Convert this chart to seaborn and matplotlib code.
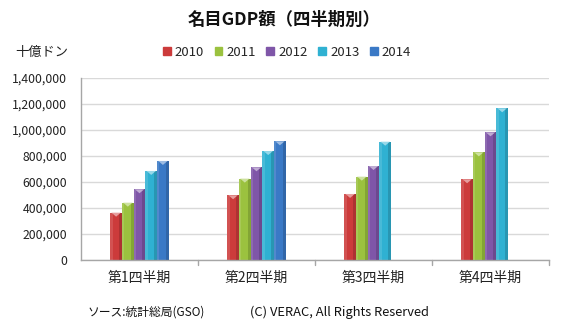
import numpy as np
import pandas as pd
import matplotlib
matplotlib.use("Agg")
import matplotlib.pyplot as plt
import matplotlib.colors as mcolors
import seaborn as sns

quarters = ["第1四半期", "第2四半期", "第3四半期", "第4四半期"]
years = ["2010", "2011", "2012", "2013", "2014"]
v2010 = [364000, 498000, 508000, 621000]
v2011 = [441000, 626000, 641000, 828000]
v2012 = [544000, 713000, 723000, 982000]
v2013 = [685000, 838000, 910000, 1167000]
v2014 = [762000, 913000, np.nan, np.nan]
yticks = [0, 200000, 400000, 600000, 800000, 1000000, 1200000, 1400000]
colors = ["#CC3B3B", "#9BC23F", "#7F56A8", "#2FB1D2", "#3A79C6"]

rows = []
for y, vals in zip(years, [v2010, v2011, v2012, v2013, v2014]):
    for q, v in zip(quarters, vals):
        rows.append({"quarter": q, "year": y, "value": v})
df = pd.DataFrame(rows)

sns.set_theme(style="white")
plt.rcParams["font.family"] = ["Noto Sans CJK JP", "DejaVu Sans"]

W, H = 567, 336
fig = plt.figure(figsize=(W / 100, H / 100), dpi=100)
ax = fig.add_axes([81 / W, (H - 260) / H, (549 - 81) / W, (260 - 78) / H])

sns.barplot(data=df, x="quarter", y="value", hue="year", order=quarters,
            hue_order=years, palette=colors, width=0.5, saturation=1,
            ax=ax, legend=False, edgecolor="none", linewidth=0)

# subtle shading on bars for a 3D-like look
cap = 1400000 / 182 * 4
for p in list(ax.patches):
    h = p.get_height()
    if h and not np.isnan(h):
        x0 = p.get_x(); w = p.get_width()
        fc = p.get_facecolor()
        ax.add_patch(plt.Rectangle((x0 + w * 0.75, 0), w * 0.25, h,
                                   color="black", alpha=0.15, lw=0, zorder=3))
        ax.add_patch(plt.Rectangle((x0, 0), w * 0.2, h,
                                   color="white", alpha=0.12, lw=0, zorder=3))
        light = tuple(min(1, c * 0.5 + 0.5) for c in fc[:3])
        ax.add_patch(plt.Polygon([(x0 + w * 0.1, h), (x0 + w * 0.9, h),
                                  (x0 + w * 0.5, h - cap)],
                                 color=light, lw=0, zorder=4))

ax.set_ylim(0, 1400000)
ax.set_xlim(-0.5, 3.5)
ax.set_yticks(yticks)
ax.set_yticklabels([f"{t:,}" for t in yticks], fontsize=8.8, color="#222222")
ax.yaxis.grid(True, color="#D9D9D9", linewidth=1)
ax.set_axisbelow(True)
ax.set_xlabel("")
ax.set_ylabel("")
ax.set_xticks([0, 1, 2, 3])
ax.set_xticklabels(quarters, fontsize=10, color="#222222")
ax.tick_params(axis="x", length=0, pad=8)
ax.tick_params(axis="y", length=0, pad=10)
for b in [0.5, 1.5, 2.5, 3.5]:
    ax.plot([b, b], [0, -0.025], transform=ax.get_xaxis_transform(),
            color="#A6A6A6", lw=1, clip_on=False)
for s in ["top", "right"]:
    ax.spines[s].set_visible(False)
for s in ["left", "bottom"]:
    ax.spines[s].set_color("#A6A6A6")
    ax.spines[s].set_linewidth(1)

fig.text(284 / W, 1 - 20 / H, "名目GDP額（四半期別）", ha="center", va="center",
         fontsize=12.5, fontweight="bold", color="#111111")
fig.text(42 / W, 1 - 52 / H, "十億ドン", ha="center", va="center", fontsize=9.5,
         color="#222222")

handles = [plt.Rectangle((0, 0), 1, 1, color=c) for c in colors]
fig.legend(handles, years, loc="center", bbox_to_anchor=(287 / W, 1 - 52 / H),
           ncol=5, frameon=False, fontsize=9.5, handlelength=0.6,
           handleheight=0.6, handletextpad=0.3, columnspacing=0.8)

fig.text(88 / W, 1 - 312 / H, "ソース:統計総局(GSO)", ha="left", va="center",
         fontsize=8.5, color="#111111")
fig.text(250 / W, 1 - 312 / H, "(C) VERAC, All Rights Reserved", ha="left",
         va="center", fontsize=9.3, color="#111111")

fig.savefig("out.png", dpi=100, facecolor="white")
